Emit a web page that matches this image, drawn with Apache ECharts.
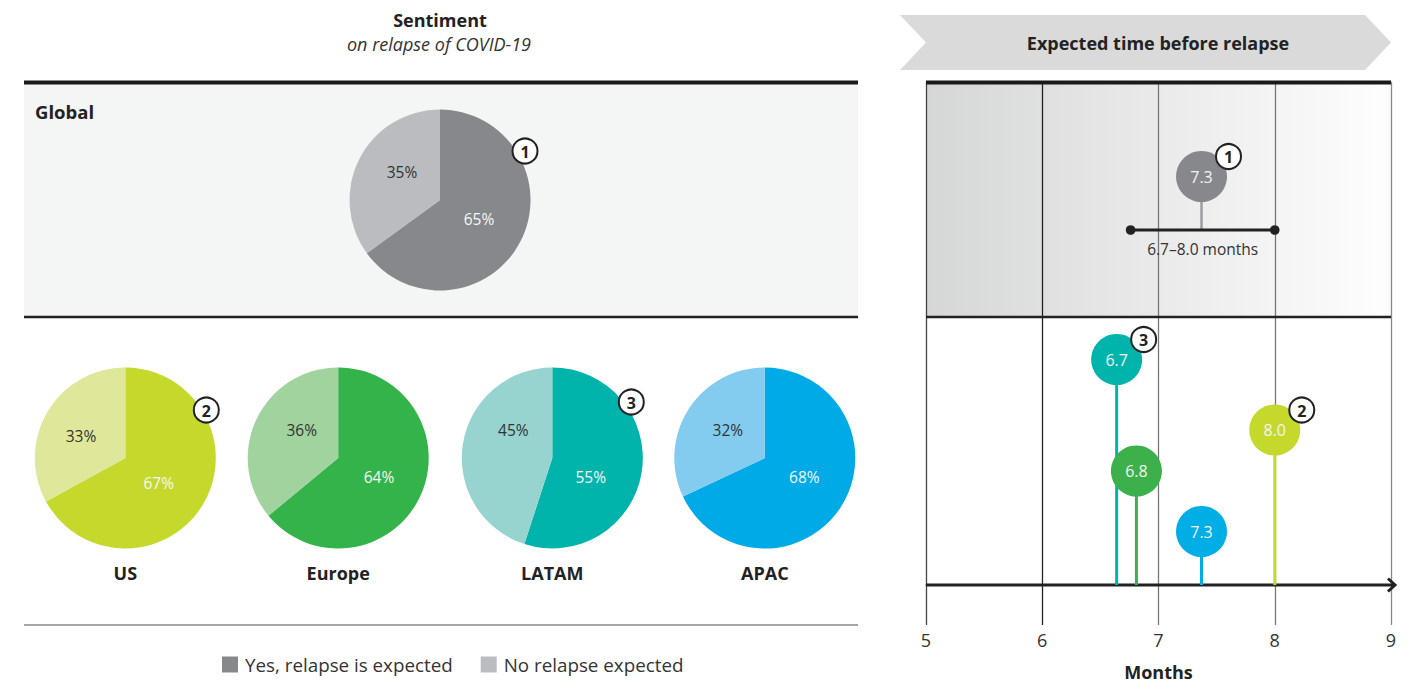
<!DOCTYPE html>
<html><head><meta charset="utf-8">
<script src="https://cdn.jsdelivr.net/npm/echarts@6/dist/echarts.min.js"></script>
<style>html,body{margin:0;padding:0;background:#fff}#c{width:1423px;height:683px}</style>
</head><body><div id="c"></div>
<script>
// ---------- data ----------
const regions = ['Global', 'US', 'Europe', 'LATAM', 'APAC'];
const yesPct = [65, 67, 64, 55, 68];
const noPct = [35, 33, 36, 45, 32];
const seriesNames = ['Yes, relapse is expected', 'No relapse expected'];
const monthLabels = ['7.3', '8.0', '6.8', '6.7', '7.3'];
const monthPos = [7.37, 8.0, 6.81, 6.64, 7.37];
const laneY = [81.7, 31, 22.8, 45.1, 10.7];
const badgeNums = [1, 2, 0, 3, 0];
const globalRange = [6.76, 8.0];
const rangeLane = 71;
const rangeText = '6.7\u20138.0 months';
const xTicks = [5, 6, 7, 8, 9];

// ---------- styles / layout ----------
const FF = "'Open Sans', sans-serif";
const yesColors = ['#86888c', '#c5d92d', '#33b34a', '#00b4ac', '#00aae6'];
const noColors = ['#babcc0', '#dfe79b', '#a0d39d', '#97d4d0', '#83cbef'];
const bubbleColors = ['#86888c', '#c5d92d', '#3cb04b', '#00b4ac', '#00aee6'];
const pieCenters = [[440, 200], [125.3, 458], [338.2, 458], [552.3, 458], [764.8, 458]];
const pieR = 90.5;
const pieBadgeOffset = [[85, -49], [81, -48], null, [79, -56], null];
const pieLabelOffset = [
  [[39, 19], [-38, -28]],
  [[33.4, 24.7], [-44.3, -22]],
  [[40.8, 18.7], [-36.5, -28]],
  [[38.4, 18.7], [-39, -28]],
  [[39.5, 18.7], [-37, -28]]
];

const chart = echarts.init(document.getElementById('c'), null, { renderer: 'svg' });

function txt(text, x, y, opt) {
  return {
    type: 'text', z: 6,
    style: Object.assign({ text, x, y, align: 'center', verticalAlign: 'middle',
      fill: '#222', fontSize: 18, fontFamily: FF }, opt || {})
  };
}
function hline(x1, x2, y, w, c) {
  return { type: 'line', z: 5, shape: { x1, y1: y, x2, y2: y }, style: { stroke: c, lineWidth: w } };
}

const graphics = [
  { type: 'rect', z: -1, shape: { x: 24, y: 84, width: 834, height: 233 }, style: { fill: '#f4f5f5' } },
  { type: 'rect', z: -1, shape: { x: 926, y: 84, width: 465, height: 233 },
    style: { fill: { type: 'linear', x: 0, y: 0, x2: 1, y2: 0,
      colorStops: [{ offset: 0, color: '#d5d6d6' }, { offset: 1, color: '#fefefe' }] } } },
  { type: 'polygon', z: 1, shape: { points: [[900, 15], [1365, 15], [1391, 42.5], [1365, 70], [900, 70], [926, 42.5]] },
    style: { fill: '#dadada' } },
  txt('Expected time before relapse', 1158, 42.5, { fontWeight: 'bold' }),
  txt('Sentiment', 440, 19.5, { fontWeight: 'bold' }),
  txt('on relapse of COVID-19', 439, 44, { fontStyle: 'italic', fontSize: 18, fill: '#333' }),
  txt('Global', 35, 111, { fontWeight: 'bold', align: 'left', fontSize: 18.5 }),
  hline(24, 858, 82.5, 4, '#1a1a1a'),
  hline(24, 858, 317, 2.5, '#222'),
  hline(24, 858, 625, 1.5, '#888'),
  hline(926, 1391, 82.5, 4, '#1a1a1a'),
  hline(926, 1391, 317, 2.5, '#222')
];
for (let i = 1; i < regions.length; i++) {
  graphics.push(txt(regions[i], pieCenters[i][0], 573, { fontWeight: 'bold' }));
}
for (let i = 0; i < regions.length; i++) {
  if (!badgeNums[i]) continue;
  const cx = pieCenters[i][0] + pieBadgeOffset[i][0], cy = pieCenters[i][1] + pieBadgeOffset[i][1];
  graphics.push({ type: 'circle', z: 6, shape: { cx, cy, r: 12.5 }, style: { fill: '#fff', stroke: '#222', lineWidth: 2 } });
  graphics.push(Object.assign(txt(String(badgeNums[i]), cx, cy + 0.5, { fontWeight: 'bold', fontSize: 16 }), { z: 7 }));
}

const pieSeries = regions.map((r, i) => ({
  type: 'pie', name: r, center: pieCenters[i], radius: pieR,
  startAngle: 90, clockwise: true, silent: true,
  itemStyle: { borderWidth: 0 },
  label: { show: true, position: 'inside', formatter: '{c}%', fontSize: 15.5, fontFamily: FF },
  labelLine: { show: false },
  labelLayout: function (p) {
    const c = pieCenters[p.seriesIndex], o = pieLabelOffset[p.seriesIndex][p.dataIndex];
    return { x: c[0] + o[0], y: c[1] + o[1] };
  },
  data: [
    { name: seriesNames[0], value: yesPct[i], itemStyle: { color: yesColors[i] }, label: { color: '#f7f7f7' } },
    { name: seriesNames[1], value: noPct[i], itemStyle: { color: noColors[i] }, label: { color: '#333' } }
  ]
}));

function renderLollipop(params, api) {
  const i = params.dataIndex;
  const x = api.value(0), y = api.value(1), base = api.value(2);
  const top = api.coord([x, y]), bot = api.coord([x, base]);
  const col = bubbleColors[i];
  const ch = [
    { type: 'line', z2: 1, shape: { x1: top[0], y1: top[1], x2: bot[0], y2: bot[1] },
      style: { stroke: i === 0 ? '#9c9da0' : col, lineWidth: i === 0 ? 2.5 : 3 } },
    { type: 'circle', z2: 10, shape: { cx: top[0], cy: top[1], r: 25.5 }, style: { fill: col } },
    { type: 'text', z2: 11, style: { text: monthLabels[i], x: top[0], y: top[1], align: 'center', verticalAlign: 'middle',
      fill: '#f4f4f4', fontSize: 16, fontFamily: FF } }
  ];
  if (badgeNums[i]) {
    const bx = top[0] + 27, by = top[1] - 20;
    ch.push({ type: 'circle', z2: 12, shape: { cx: bx, cy: by, r: 12.5 }, style: { fill: '#fff', stroke: '#222', lineWidth: 2 } });
    ch.push({ type: 'text', z2: 13, style: { text: String(badgeNums[i]), x: bx, y: by + 0.5, align: 'center', verticalAlign: 'middle',
      fill: '#222', fontSize: 16, fontWeight: 'bold', fontFamily: FF } });
  }
  return { type: 'group', children: ch };
}

function renderRange(params, api) {
  const a = api.coord([api.value(0), api.value(2)]), b = api.coord([api.value(1), api.value(2)]);
  return { type: 'group', children: [
    { type: 'line', z2: 5, shape: { x1: a[0], y1: a[1], x2: b[0], y2: b[1] }, style: { stroke: '#222', lineWidth: 3 } },
    { type: 'circle', z2: 6, shape: { cx: a[0], cy: a[1], r: 4.8 }, style: { fill: '#222' } },
    { type: 'circle', z2: 6, shape: { cx: b[0], cy: b[1], r: 4.8 }, style: { fill: '#222' } },
    { type: 'text', z2: 6, style: { text: rangeText, x: (a[0] + b[0]) / 2, y: a[1] + 18.5, align: 'center', verticalAlign: 'middle',
      fill: '#333', fontSize: 15.5, fontFamily: FF } }
  ] };
}

function renderArrow(params, api) {
  const a = api.coord([api.value(0), api.value(2)]), b = api.coord([api.value(1), api.value(2)]);
  const ex = b[0] + 4;
  return { type: 'group', children: [
    { type: 'line', z2: 0, shape: { x1: a[0], y1: a[1], x2: ex - 1, y2: b[1] }, style: { stroke: '#222', lineWidth: 3 } },
    { type: 'polyline', z2: 0, shape: { points: [[ex - 7, b[1] - 6.5], [ex, b[1]], [ex - 7, b[1] + 6.5]] },
      style: { stroke: '#222', lineWidth: 3, fill: null } }
  ] };
}

chart.setOption({
  animation: false,
  backgroundColor: '#fff',
  textStyle: { fontFamily: FF },
  graphic: graphics,
  legend: {
    left: 222, top: 655, padding: 0, itemWidth: 16, itemHeight: 16, itemGap: 28, icon: 'rect',
    selectedMode: false,
    textStyle: { fontSize: 18.8, color: '#333', fontFamily: FF, padding: [0, 0, 0, 2] },
    data: [
      { name: seriesNames[0], itemStyle: { color: yesColors[0] } },
      { name: seriesNames[1], itemStyle: { color: noColors[0] } }
    ]
  },
  grid: { left: 926, top: 82, width: 465, height: 543, containLabel: false, outerBoundsMode: 'none' },
  xAxis: {
    type: 'value', min: xTicks[0], max: xTicks[xTicks.length - 1], interval: 1,
    name: 'Months', nameLocation: 'middle', nameGap: 38,
    nameTextStyle: { fontSize: 18, lineHeight: 18, fontWeight: 'bold', color: '#222', fontFamily: FF },
    axisLine: { show: true, lineStyle: { color: '#777', width: 1.5 } },
    axisTick: { show: false },
    axisLabel: { fontSize: 18, color: '#333', margin: 6, fontFamily: FF },
    splitLine: { show: true, lineStyle: { color: ['#444', '#222', '#777', '#777', '#888'], width: 1.3 } }
  },
  yAxis: { type: 'value', min: -8, max: 100.6, show: false },
  series: pieSeries.concat([
    { type: 'custom', name: 'axisArrow', renderItem: renderArrow, clip: false, silent: true,
      encode: { x: [0, 1], y: 2 }, data: [[xTicks[0], xTicks[xTicks.length - 1], 0]] },
    { type: 'custom', name: 'range', renderItem: renderRange, clip: false, silent: true, z: 3,
      encode: { x: [0, 1], y: 2 }, data: [[globalRange[0], globalRange[1], rangeLane]] },
    { type: 'custom', name: 'months', renderItem: renderLollipop, clip: false, silent: true, z: 2,
      encode: { x: 0, y: 1 }, data: regions.map((r, i) => [monthPos[i], laneY[i], i === 0 ? rangeLane : 0]) }
  ])
});
</script></body></html>
